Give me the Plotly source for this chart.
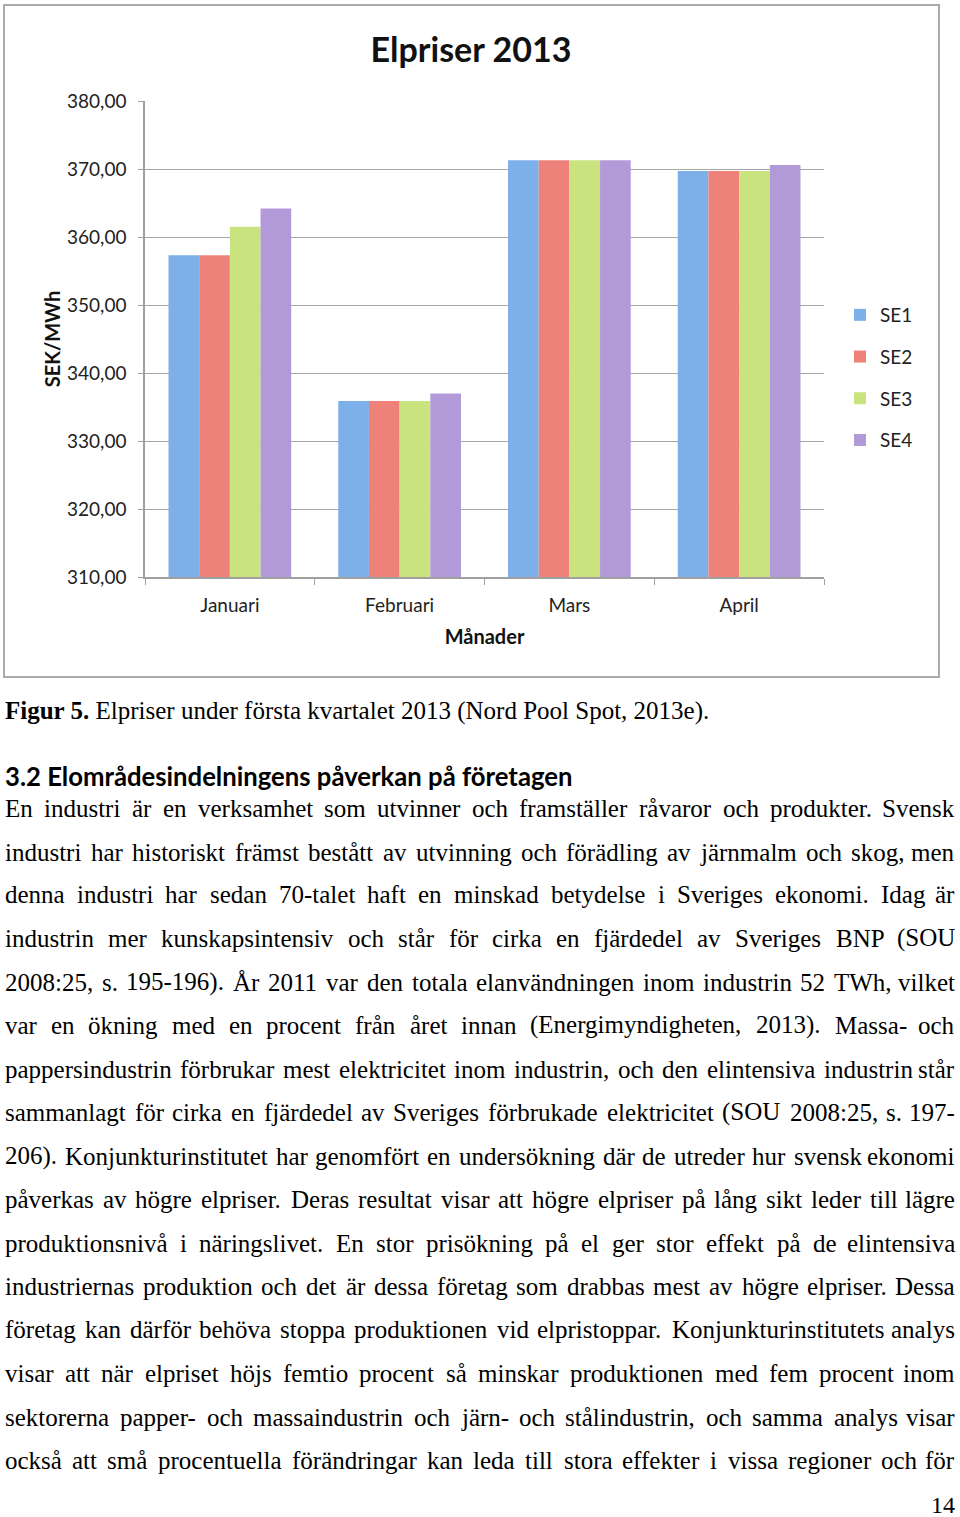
import plotly.graph_objects as go

# ---------------- data ----------------
months = ["Januari", "Februari", "Mars", "April"]
se1 = [357.3, 335.9, 371.3, 369.7]
se2 = [357.3, 335.9, 371.3, 369.7]
se3 = [361.5, 335.9, 371.3, 369.7]
se4 = [364.2, 337.0, 371.3, 370.6]
series_names = ["SE1", "SE2", "SE3", "SE4"]
y_ticks = [310, 320, 330, 340, 350, 360, 370, 380]

caption_bold = "Figur 5."
caption_rest = " Elpriser under första kvartalet 2013 (Nord Pool Spot, 2013e)."
heading = "3.2 Elområdesindelningens påverkan på företagen"
body_lines = [
    "En industri är en verksamhet som utvinner och framställer råvaror och produkter. Svensk",
    "industri har historiskt främst bestått av utvinning och förädling av järnmalm och skog, men",
    "denna industri har sedan 70-talet haft en minskad betydelse i Sveriges ekonomi. Idag är",
    "industrin mer kunskapsintensiv och står för cirka en fjärdedel av Sveriges BNP (SOU",
    "2008:25, s. 195-196). År 2011 var den totala elanvändningen inom industrin 52 TWh, vilket",
    "var en ökning med en procent från året innan (Energimyndigheten, 2013). Massa- och",
    "pappersindustrin förbrukar mest elektricitet inom industrin, och den elintensiva industrin står",
    "sammanlagt för cirka en fjärdedel av Sveriges förbrukade elektricitet (SOU 2008:25, s. 197-",
    "206). Konjunkturinstitutet har genomfört en undersökning där de utreder hur svensk ekonomi",
    "påverkas av högre elpriser. Deras resultat visar att högre elpriser på lång sikt leder till lägre",
    "produktionsnivå i näringslivet. En stor prisökning på el ger stor effekt på de elintensiva",
    "industriernas produktion och det är dessa företag som drabbas mest av högre elpriser. Dessa",
    "företag kan därför behöva stoppa produktionen vid elpristoppar. Konjunkturinstitutets analys",
    "visar att när elpriset höjs femtio procent så minskar produktionen med fem procent inom",
    "sektorerna papper- och massaindustrin och järn- och stålindustrin, och samma analys visar",
    "också att små procentuella förändringar kan leda till stora effekter i vissa regioner och för",
]
page_number = "14"

# ---------------- layout geometry ----------------
W, H = 960, 1517
PL, PR, PT, PB = 145, 824, 101, 577
PW, PH = PR - PL, PB - PT


def px(x):
    return (x - PL) / PW


def py(y):
    return (PB - y) / PH


colors = ["#7dafe9", "#ee827a", "#c9e47f", "#b29ad9"]
values = [se1, se2, se3, se4]

fig = go.Figure()
for name, vals, col in zip(series_names, values, colors):
    fig.add_trace(go.Bar(
        x=months, y=vals, name=name, legendgroup=name,
        marker=dict(color=col, line=dict(width=0)),
    ))

CHART_FONT = "Lato, 'Open Sans', sans-serif"
SERIF = "'Liberation Serif', 'Times New Roman', serif"

fig.update_layout(
    width=W, height=H,
    margin=dict(l=PL, r=W - PR, t=PT, b=H - PB, autoexpand=False),
    paper_bgcolor="white", plot_bgcolor="white",
    separators=",.",
    barmode="group", bargap=0.277, bargroupgap=0,
    font=dict(family=CHART_FONT, color="#222222", size=19),
    title=dict(text="<b>Elpriser 2013</b>", x=471 / W, xref="container",
               y=1 - 50 / H, yanchor="middle", xanchor="center",
               font=dict(family=CHART_FONT, size=34, color="#111111")),
    showlegend=True,
    legend=dict(x=px(840), y=py(296), xanchor="left", yanchor="top",
                font=dict(family=CHART_FONT, size=19, color="#222222"),
                tracegroupgap=14, bgcolor="rgba(0,0,0,0)", traceorder="grouped"),
    xaxis=dict(
        type="category", showline=True, linecolor="#a0a0a0", linewidth=1.5,
        ticks="outside", tickson="boundaries", ticklen=6, tickcolor="#a0a0a0",
        showgrid=False, ticklabelstandoff=10,
        tickfont=dict(family=CHART_FONT, size=19, color="#222222"),
        title=dict(text="<b>Månader</b>", standoff=15,
                   font=dict(family=CHART_FONT, size=20, color="#111111")),
    ),
    yaxis=dict(
        range=[310, 380], tickvals=y_ticks, tickformat=".2f",
        showline=True, linecolor="#a0a0a0", linewidth=1.5,
        ticks="outside", ticklen=5, tickcolor="#a0a0a0",
        showgrid=True, gridcolor="#a6a6a6", gridwidth=1.2,
        zeroline=False, ticklabelstandoff=8,
        tickfont=dict(family=CHART_FONT, size=19, color="#222222"),
        title=dict(text="<b>SEK/MWh</b>", standoff=1,
                   font=dict(family=CHART_FONT, size=20, color="#111111")),
    ),
)

# chart frame
fig.add_shape(type="rect", xref="paper", yref="paper",
              x0=px(4), x1=px(939), y0=py(677), y1=py(5),
              line=dict(color="#ababab", width=2), layer="below")

# ---------------- text below the chart ----------------
TW = {' ': 250, 'a': 444, 'b': 500, 'c': 444, 'd': 500, 'e': 444, 'f': 333, 'g': 500,
      'h': 500, 'i': 278, 'j': 278, 'k': 500, 'l': 278, 'm': 778, 'n': 500, 'o': 500,
      'p': 500, 'q': 500, 'r': 333, 's': 389, 't': 278, 'u': 500, 'v': 500, 'w': 722,
      'x': 500, 'y': 500, 'z': 444, 'A': 722, 'B': 667, 'C': 667, 'D': 722, 'E': 611,
      'F': 556, 'G': 722, 'H': 722, 'I': 333, 'J': 389, 'K': 722, 'L': 611, 'M': 889,
      'N': 722, 'O': 722, 'P': 556, 'Q': 722, 'R': 667, 'S': 556, 'T': 611, 'U': 722,
      'V': 722, 'W': 944, 'X': 722, 'Y': 722, 'Z': 611, '.': 250, ',': 250, ':': 278,
      ';': 278, '-': 333, '(': 333, ')': 333, 'å': 444, 'ä': 444, 'ö': 500, 'Å': 722,
      'Ä': 722, 'Ö': 722, 'é': 444}
for d in "0123456789":
    TW[d] = 500

FS = 25
LEFT, RIGHT = 4, 956


def text_width(s):
    return sum(TW.get(ch, 500) for ch in s) * FS / 1000.0


def ann(text, x, y, xanchor="left", font=None):
    fig.add_annotation(text=text, xref="paper", yref="paper", x=px(x), y=py(y),
                       xanchor=xanchor, yanchor="middle", showarrow=False,
                       borderpad=0, font=font or dict(family=SERIF, size=FS, color="#000000"))


ann("<b>" + caption_bold + "</b>" + caption_rest, LEFT, 711)
ann("<b>" + heading + "</b>", LEFT, 776,
    font=dict(family=CHART_FONT, size=25.7, color="#000000"))

line_y = [808, 852, 895, 938, 982, 1025, 1069, 1112, 1156, 1199, 1243, 1286, 1330, 1373, 1417, 1460]
for line, yy in zip(body_lines, line_y):
    words = line.split(" ")
    widths = [text_width(w) for w in words]
    gap = (RIGHT - LEFT - sum(widths)) / (len(words) - 1)
    x = LEFT
    for i, (w, wd) in enumerate(zip(words, widths)):
        if i == len(words) - 1:
            ann(w, RIGHT, yy, xanchor="right")
        else:
            ann(w, x, yy)
        x += wd + gap

ann(page_number, RIGHT, 1505, xanchor="right",
    font=dict(family=SERIF, size=24, color="#000000"))

fig.write_html("out.html", config={"displayModeBar": False},
               post_script="document.body.style.margin='0';document.body.style.overflow='hidden';")
